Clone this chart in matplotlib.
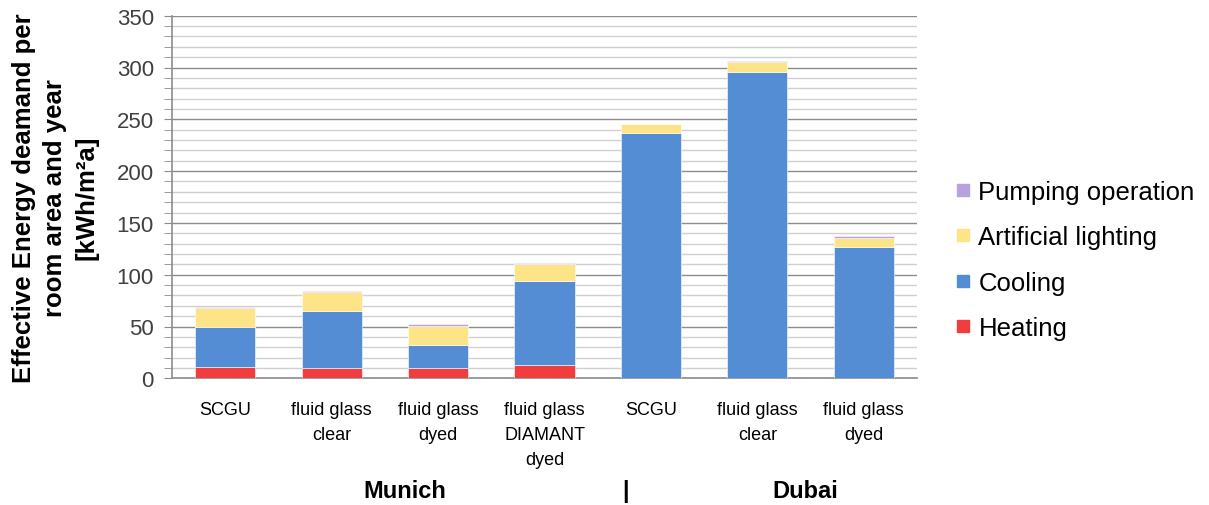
import numpy as np
import matplotlib.pyplot as plt
from matplotlib.lines import Line2D

plt.rcParams["font.family"] = ["Liberation Sans", "DejaVu Sans"]

# data (kWh/m²a)
labels = ["SCGU", "fluid glass\nclear", "fluid glass\ndyed", "fluid glass\nDIAMANT\ndyed",
          "SCGU", "fluid glass\nclear", "fluid glass\ndyed"]
heating = [11.3, 10.3, 10.0, 12.9, 0, 0, 0]
cooling = [38.2, 54.4, 22.5, 81.4, 236.5, 296.0, 126.4]
lighting = [18.7, 18.3, 18.3, 16.1, 8.7, 9.0, 8.7]
pumping = [0.3, 1.3, 1.6, 1.2, 0.3, 1.0, 2.3]
series = ["Heating", "Cooling", "Artificial lighting", "Pumping operation"]
colors = ["#F03E3E", "#548DD4", "#FDE587", "#B8A2DE"]

fig = plt.figure(figsize=(12.09, 5.06), dpi=100)
ax = fig.add_axes([172 / 1209, 1 - 379.3 / 506, 745 / 1209, 362.6 / 506])

x = np.arange(len(labels))
bottom = np.zeros(len(labels))
for vals, c in zip([heating, cooling, lighting, pumping], colors):
    ax.bar(x, vals, 0.565, bottom=bottom, color=c, edgecolor="white", linewidth=0.4, zorder=3)
    bottom += np.array(vals)

ax.set_xlim(-0.5, len(labels) - 0.5)
ax.set_ylim(0, 350)
ax.set_yticks(np.arange(0, 351, 50))
ax.set_yticks(np.arange(0, 351, 10), minor=True)
ax.grid(axis="y", which="minor", color="#d0d0d0", linewidth=1.0, zorder=0)
ax.grid(axis="y", which="major", color="#8c8c8c", linewidth=1.0, zorder=1)
for s in ["top", "right"]:
    ax.spines[s].set_visible(False)
for s in ["left", "bottom"]:
    ax.spines[s].set_color("#8c8c8c")
    ax.spines[s].set_linewidth(1.2)
ax.tick_params(axis="y", which="both", length=6, color="#8c8c8c", direction="out")
ax.tick_params(axis="y", which="major", labelsize=16, labelcolor="#404040", pad=7)
ax.tick_params(axis="x", length=0, pad=16)
ax.set_xticks(x)
ax.set_xticklabels(labels, fontsize=13, linespacing=1.62)

ax.set_ylabel("Effective Energy deamand per\nroom area and year\n[kWh/m²a]",
              fontsize=18.5, fontweight="bold", linespacing=1.4)
ax.yaxis.set_label_coords(-0.098, 0.5)

fig.text(405 / 1209, 1 - 492 / 506, "Munich", fontsize=17, fontweight="bold",
         ha="center", va="center")
fig.text(625 / 1209, 1 - 492 / 506, "|", fontsize=17, fontweight="bold",
         ha="center", va="center")
fig.text(805 / 1209, 1 - 492 / 506, "Dubai", fontsize=17, fontweight="bold",
         ha="center", va="center")

handles = [Line2D([], [], marker="s", linestyle="", markersize=8.5, color=c)
           for c in colors[::-1]]
fig.legend(handles, series[::-1], loc="center left", bbox_to_anchor=(927 / 1209, 1 - 261 / 506),
           frameon=False, fontsize=18.5, handletextpad=0.1, labelspacing=0.82,
           handlelength=1.0)

fig.savefig("out.png", dpi=100)
